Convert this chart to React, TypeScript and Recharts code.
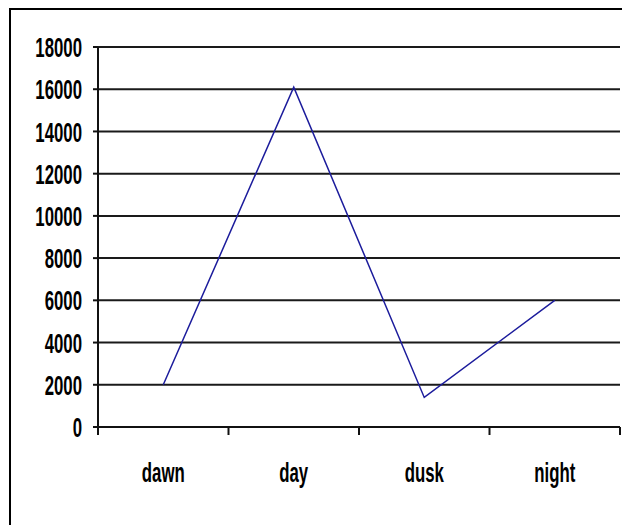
import React from "react";
import { LineChart, Line, XAxis, YAxis, CartesianGrid } from "recharts";

const categories = ["dawn", "day", "dusk", "night"];
const values = [2000, 16100, 1400, 6000];
const yTicks = [0, 2000, 4000, 6000, 8000, 10000, 12000, 14000, 16000, 18000];

const data = categories.map((c, i) => ({ name: c, value: values[i] }));

const W = 622;
const H = 525;
const M = { top: 47, right: 2, left: 0, bottom: 0 };
const YW = 98;
const XH = 98;
const PLOT_W = W - M.left - M.right - YW;
const HALF_BAND = PLOT_W / categories.length / 2;
const FONT = "'Liberation Sans', Arial, sans-serif";

const YTick = (props: any) => {
  const { x, y, payload } = props;
  return (
    <g transform={`translate(${x},${y}) scale(0.6,1)`}>
      <text x={0} y={0} dy="0.36em" textAnchor="end" fontFamily={FONT} fontSize={28} fontWeight="bold" fill="#000">
        {payload.value}
      </text>
    </g>
  );
};

const XTick = (props: any) => {
  const { x, y, payload, index } = props;
  const last = index === categories.length - 1;
  return (
    <g>
      <line x1={x - HALF_BAND} x2={x - HALF_BAND} y1={y} y2={y + 8} stroke="#111" strokeWidth={2} />
      {last && <line x1={x + HALF_BAND} x2={x + HALF_BAND} y1={y} y2={y + 8} stroke="#111" strokeWidth={2} />}
      <g transform={`translate(${x},${y + 55}) scale(0.6,1)`}>
        <text x={0} y={0} textAnchor="middle" fontFamily={FONT} fontSize={28} fontWeight="bold" fill="#000">
          {payload.value}
        </text>
      </g>
    </g>
  );
};

export default function App() {
  return (
    <div style={{ position: "fixed", left: 0, top: 0, width: W, height: H, overflow: "hidden", background: "#fff" }}>
      <div
        style={{
          position: "absolute",
          left: 9,
          top: 8,
          width: 700,
          height: 700,
          borderLeft: "2px solid #000",
          borderTop: "2px solid #000",
        }}
      />
      <div style={{ position: "absolute", left: 0, top: 0 }}>
        <LineChart width={W} height={H} data={data} margin={M}>
          <CartesianGrid xAxisId="main" yAxisId="main" vertical={false} stroke="#1a1a1a" strokeWidth={2} />
          <XAxis
            dataKey="name"
            xAxisId="main"
            scale="band"
            height={XH}
            tickLine={false}
            tickSize={0}
            tickMargin={0}
            axisLine={{ stroke: "#111", strokeWidth: 2 }}
            tick={<XTick />}
            interval={0}
          />
          <XAxis
            dataKey="name"
            xAxisId="top"
            orientation="top"
            scale="band"
            height={0}
            tick={false}
            tickLine={false}
            axisLine={{ stroke: "#a0a0a0", strokeWidth: 2 }}
          />
          <YAxis
            yAxisId="main"
            width={YW}
            domain={[0, 18000]}
            ticks={yTicks}
            interval={0}
            tickSize={5}
            tickMargin={11}
            tickLine={{ stroke: "#111", strokeWidth: 2 }}
            axisLine={{ stroke: "#111", strokeWidth: 2 }}
            tick={<YTick />}
          />
          <YAxis
            yAxisId="right"
            orientation="right"
            width={0}
            domain={[0, 18000]}
            tick={false}
            tickLine={false}
            axisLine={{ stroke: "#a0a0a0", strokeWidth: 2 }}
          />
          <Line
            xAxisId="main"
            yAxisId="main"
            dataKey="value"
            stroke="#1c1c9c"
            strokeWidth={1.5}
            dot={false}
            isAnimationActive={false}
          />
        </LineChart>
      </div>
    </div>
  );
}
